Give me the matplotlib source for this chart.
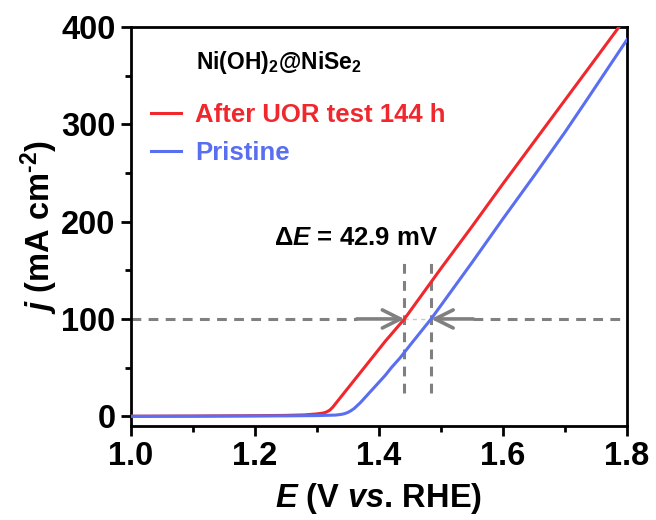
import matplotlib
matplotlib.use('Agg')
import matplotlib.pyplot as plt

plt.rcParams['font.family'] = ['Liberation Sans', 'DejaVu Sans']
plt.rcParams['font.weight'] = 'bold'
plt.rcParams['axes.labelweight'] = 'bold'
plt.rcParams['mathtext.fontset'] = 'custom'
plt.rcParams['mathtext.rm'] = 'Liberation Sans:bold'
plt.rcParams['mathtext.it'] = 'Liberation Sans:italic:bold'
plt.rcParams['mathtext.bf'] = 'Liberation Sans:bold'

# LSV curves, potential (V vs. RHE) and current density (mA cm-2)
E_after = [1.00, 1.10, 1.20, 1.25, 1.28, 1.30, 1.31, 1.315, 1.32, 1.325, 1.33, 1.35,
           1.38, 1.41, 1.441, 1.50, 1.55, 1.60, 1.65, 1.70, 1.75, 1.787, 1.80]
j_after = [0.0, 0.2, 0.6, 0.9, 1.4, 2.4, 3.3, 4.3, 6.0, 9.0, 13.0, 29.0,
           53.0, 77.0, 100.0, 152.0, 195.0, 239.0, 282.0, 325.0, 368.0, 400.0, 411.0]

E_pristine = [1.00, 1.10, 1.20, 1.25, 1.30, 1.33, 1.34, 1.345, 1.35, 1.355, 1.36,
              1.37, 1.38, 1.39, 1.40, 1.41, 1.42, 1.434, 1.45, 1.484, 1.50, 1.55,
              1.60, 1.65, 1.70, 1.735, 1.80]
j_pristine = [0.0, 0.1, 0.3, 0.4, 0.7, 1.2, 2.0, 2.8, 4.0, 5.8, 8.0,
              14.0, 21.0, 28.0, 35.0, 42.0, 50.0, 60.0, 73.0, 100.0, 114.0, 158.0,
              203.0, 247.0, 292.0, 325.0, 387.0]

labels = ['After UOR test 144 h', 'Pristine']
colors = ['#f0282d', '#5a6ef0']

j_ref = 100          # current density used for the comparison
E_at_ref = [1.441, 1.484]
delta_mV = 42.9

fig = plt.figure(figsize=(6.56, 5.2), dpi=100)
ax = fig.add_axes([0.1997, 0.1808, 0.7561, 0.7672])

ax.plot(E_after, j_after, color=colors[0], lw=2.2, label=labels[0], zorder=3)
ax.plot(E_pristine, j_pristine, color=colors[1], lw=2.2, label=labels[1], zorder=3)

grey = '#808080'
dash = (0, (3.2, 2.4))
# guide lines at j = 100
ax.plot([1.0, 1.364], [j_ref, j_ref], ls=dash, color=grey, lw=2.2)
ax.plot([1.552, 1.8], [j_ref, j_ref], ls=dash, color=grey, lw=2.2)
ax.plot(E_at_ref, [j_ref, j_ref], ls=(0, (3, 3)), color='#c8c8c8', lw=1.0)
for e in E_at_ref:
    ax.plot([e, e], [24, 159], ls=dash, color=grey, lw=2.2, zorder=2)
arrow = dict(arrowstyle='->,head_length=1.3,head_width=0.65',
             color=grey, lw=2.6, shrinkA=0, shrinkB=0)
ax.annotate('', xy=(E_at_ref[0], j_ref), xytext=(1.364, j_ref), arrowprops=arrow)
ax.annotate('', xy=(E_at_ref[1], j_ref), xytext=(1.552, j_ref), arrowprops=arrow)

ax.text(1.363, 183.5, r'$\Delta\mathit{E}$ = ' + f'{delta_mV} mV',
        fontsize=18.5, ha='center', va='center')

ax.text(0.131, 0.912, r'Ni(OH)$_2$@NiSe$_2$', transform=ax.transAxes,
        fontsize=16.5, ha='left', va='center')
ax.legend(loc='upper left', bbox_to_anchor=(0.02, 0.835), frameon=False,
          fontsize=18.5, handlelength=1.15, handletextpad=0.55,
          labelspacing=0.55, labelcolor='linecolor', borderaxespad=0)

ax.set_xlim(1.0, 1.8)
ax.set_ylim(-10, 400)
ax.set_xticks([1.0, 1.2, 1.4, 1.6, 1.8])
ax.set_xticks([1.1, 1.3, 1.5, 1.7], minor=True)
ax.set_yticks([0, 100, 200, 300, 400])
ax.set_yticks([50, 150, 250, 350], minor=True)
ax.xaxis.set_major_formatter(matplotlib.ticker.FormatStrFormatter('%.1f'))
ax.tick_params(which='major', direction='out', length=7, width=2, labelsize=23.5, pad=4)
ax.tick_params(which='minor', direction='out', length=4, width=2)
for s in ax.spines.values():
    s.set_linewidth(2)

ax.set_xlabel(r'$\mathit{E}$ (V $\mathit{vs}$. RHE)', fontsize=23.5, labelpad=6)
ax.set_ylabel(r'$\mathit{j}$ (mA cm$^{\text{-2}}$)', fontsize=23.5, labelpad=1)

fig.savefig('out.png', dpi=100)
